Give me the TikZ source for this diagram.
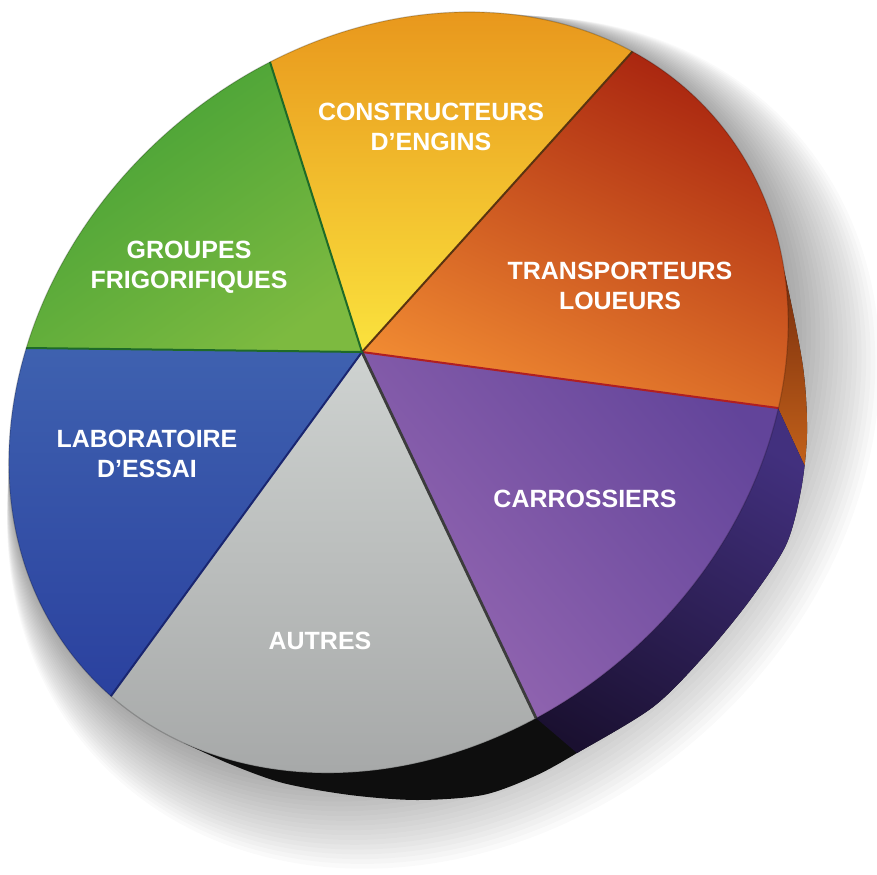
\documentclass[tikz,border=0pt]{standalone}
\usepackage{fontspec}
\setmainfont{Liberation Sans}
\usepackage{tikz}
\usetikzlibrary{calc}

\definecolor{gruenA}{HTML}{3E9E35}
\definecolor{gruenB}{HTML}{7DBA40}
\definecolor{gruenD}{HTML}{1E6A28}
\definecolor{gelbA}{HTML}{E8961C}
\definecolor{gelbM}{HTML}{F2AE26}
\definecolor{gelbB}{HTML}{FBE43E}
\definecolor{gelbD}{HTML}{5A3410}
\definecolor{orangeA}{HTML}{A8240F}
\definecolor{orangeM}{HTML}{E2521C}
\definecolor{orangeB}{HTML}{F08A32}
\definecolor{orangeD}{HTML}{B01E22}
\definecolor{lilaA}{HTML}{62449A}
\definecolor{lilaB}{HTML}{9668B2}
\definecolor{grauA}{HTML}{CFD3D1}
\definecolor{grauM}{HTML}{C5C9C7}
\definecolor{grauB}{HTML}{A6A8A8}
\definecolor{grauD}{HTML}{3C3C3C}
\definecolor{blauA}{HTML}{3F62B0}
\definecolor{blauB}{HTML}{2A409E}
\definecolor{blauD}{HTML}{1A2670}
\definecolor{seiteOA}{HTML}{5C1A08}
\definecolor{seiteOB}{HTML}{C4621A}
\definecolor{seitePA}{HTML}{42307E}
\definecolor{seitePB}{HTML}{1A1030}
\definecolor{seiteS}{HTML}{0E0E0E}

\tikzset{every picture/.style={x=0.1mm, y=-0.1mm}}
\tikzstyle{schrift}	= [text=white, font=\bfseries\fontsize{7.1}{8.6}\selectfont, align=center, inner sep=0pt]
\tikzstyle{trenner}	= [line width=0.2mm, line cap=round]

\newcommand{\torte}{(398.5,392.5) ellipse [x radius=419, y radius=348, rotate=41.3]}
\newcommand{\stueck}[4]{%
	\begin{scope}
		\clip (centre) -- ($(centre)!3!(#1)$) -- ($(centre)!3!(#2)$) -- cycle;
		\shade[#3] #4;
	\end{scope}}

\begin{document}
\begin{tikzpicture}
	\useasboundingbox (0,0) rectangle (877,874);

	% Punkte
	\coordinate (centre) at (362,352);
	\coordinate (bGY) at (270,62);
	\coordinate (bYO) at (632,52);
	\coordinate (bOP) at (778,408);
	\coordinate (bPG) at (536,718);
	\coordinate (bGB) at (111,696);
	\coordinate (bBG) at (26,348);
	\coordinate (sOP) at (802,460);
	\coordinate (sPG) at (577,753);

	% Schatten
	\foreach \k in {1,...,20} {
		\pgfmathsetmacro{\fak}{1+0.006*\k}
		\fill[black, opacity=0.018, shift={(2.25*\k,2.5*\k)}, scale around={\fak:(398.5,392.5)}] \torte;
	}

	% Seitenflaeche
	\begin{scope}
		\clip plot[smooth] coordinates {(767,210) (785,275) (803,367) (807,433) (801,490) (786,545) (750,600) (705,655) (653,707) (577,753) (535,776) (483,795) (417,800) (350,795) (283,783) (230,764) (184,743)} -- cycle;
		\fill[seiteS] (0,0) rectangle (877,874);
		\begin{scope}
			\clip (bOP) -- ($(bOP)!3!(sOP)$) -- (900,600) -- (900,0) -- (600,0) -- cycle;
			\shade[top color=seiteOA, bottom color=seiteOB] (740,200) rectangle (820,470);
		\end{scope}
		\begin{scope}
			\clip (bPG) -- ($(bPG)!3!(sPG)$) -- (900,900) -- ($(bOP)!3!(sOP)$) -- (bOP) -- cycle;
			\shade[top color=seitePA, bottom color=seitePB, shading angle=-30] (520,400) rectangle (820,790);
		\end{scope}
	\end{scope}

	% Tortenstuecke
	\begin{scope}
		\clip \torte;
		\stueck{bBG}{bGY}{top color=gruenA, bottom color=gruenB, shading angle=35}{(0,40) rectangle (370,360)}
		\stueck{bGY}{bYO}{top color=gelbA, middle color=gelbM, bottom color=gelbB}{(260,5) rectangle (640,360)}
		\stueck{bYO}{bOP}{top color=orangeA, middle color=orangeM, bottom color=orangeB, shading angle=-25}{(360,45) rectangle (795,415)}
		\stueck{bOP}{bPG}{top color=lilaA, bottom color=lilaB, shading angle=-50}{(355,345) rectangle (795,730)}
		\stueck{bPG}{bGB}{top color=grauA, middle color=grauM, bottom color=grauB}{(105,345) rectangle (545,780)}
		\stueck{bGB}{bBG}{top color=blauA, bottom color=blauB}{(0,340) rectangle (370,705)}

		% Trennlinien
		\draw[trenner, gruenD] (centre) -- ($(centre)!1.05!(bGY)$);
		\draw[trenner, gelbD] (centre) -- ($(centre)!1.05!(bYO)$);
		\draw[trenner, orangeD] (centre) -- ($(centre)!1.05!(bOP)$);
		\draw[trenner, grauD, line width=0.28mm] (centre) -- ($(centre)!1.05!(bPG)$);
		\draw[trenner, blauD] (centre) -- ($(centre)!1.05!(bGB)$);
		\draw[trenner, gruenD] (centre) -- ($(centre)!1.05!(bBG)$);
	\end{scope}
	\draw[black, opacity=0.2, line width=0.12mm] \torte;

	% Beschriftung
	\node[schrift] (lblKonstr) at (431,127) {CONSTRUCTEURS\\D’ENGINS};
	\node[schrift] (lblGruppen) at (189,267) {GROUPES\\FRIGORIFIQUES};
	\node[schrift] (lblTransp) at (620,286) {TRANSPORTEURS\\LOUEURS};
	\node[schrift] (lblKaross) at (585,499) {CARROSSIERS};
	\node[schrift] (lblAndere) at (320,641) {AUTRES};
	\node[schrift] (lblLabor) at (147,454) {LABORATOIRE\\D’ESSAI};
\end{tikzpicture}
\end{document}
